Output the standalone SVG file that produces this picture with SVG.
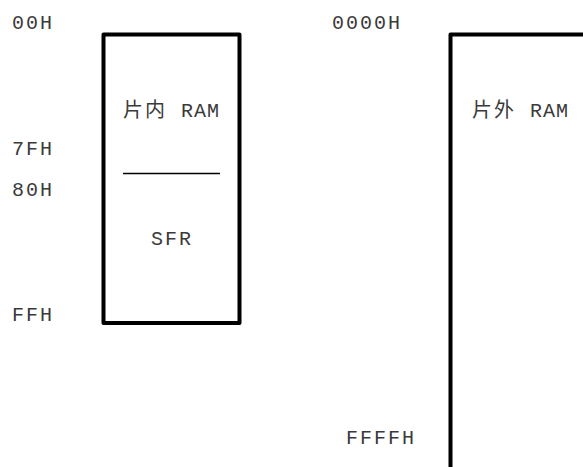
<svg xmlns="http://www.w3.org/2000/svg" width="583" height="467" viewBox="0 0 583 467">
  <style>
    .t { font-family: "Liberation Mono", "Noto Sans CJK SC", monospace; font-size: 20px; letter-spacing: 2px; fill: #3a3a3a; }
    .r { letter-spacing: 1px; }
    .box { fill: none; stroke: #000; stroke-width: 4; stroke-linejoin: round; }
    .div { stroke: #000; stroke-width: 1.6; }
  </style>
  <rect width="583" height="467" fill="#fff"/>
  <g id="address-labels">
    <text class="t" x="12" y="29">00H</text>
    <text class="t" x="12" y="155">7FH</text>
    <text class="t" x="12" y="196">80H</text>
    <text class="t" x="12" y="321">FFH</text>
    <text class="t" x="332" y="29">0000H</text>
    <text class="t" x="346" y="444">FFFFH</text>
  </g>
  <g id="internal-ram">
    <rect class="box" x="103.5" y="34.5" width="136" height="288.5"/>
    <line class="div" x1="123" y1="173.5" x2="220" y2="173.5"/>
    <text class="t" x="123" y="117">片内 <tspan class="r">RAM</tspan></text>
    <text class="t" x="151" y="245">SFR</text>
  </g>
  <g id="external-ram">
    <path class="box" d="M450.5 475 V34.5 H590"/>
    <text class="t" x="472" y="117">片外 <tspan class="r">RAM</tspan></text>
  </g>
  <g id="connectors"/>
</svg>
